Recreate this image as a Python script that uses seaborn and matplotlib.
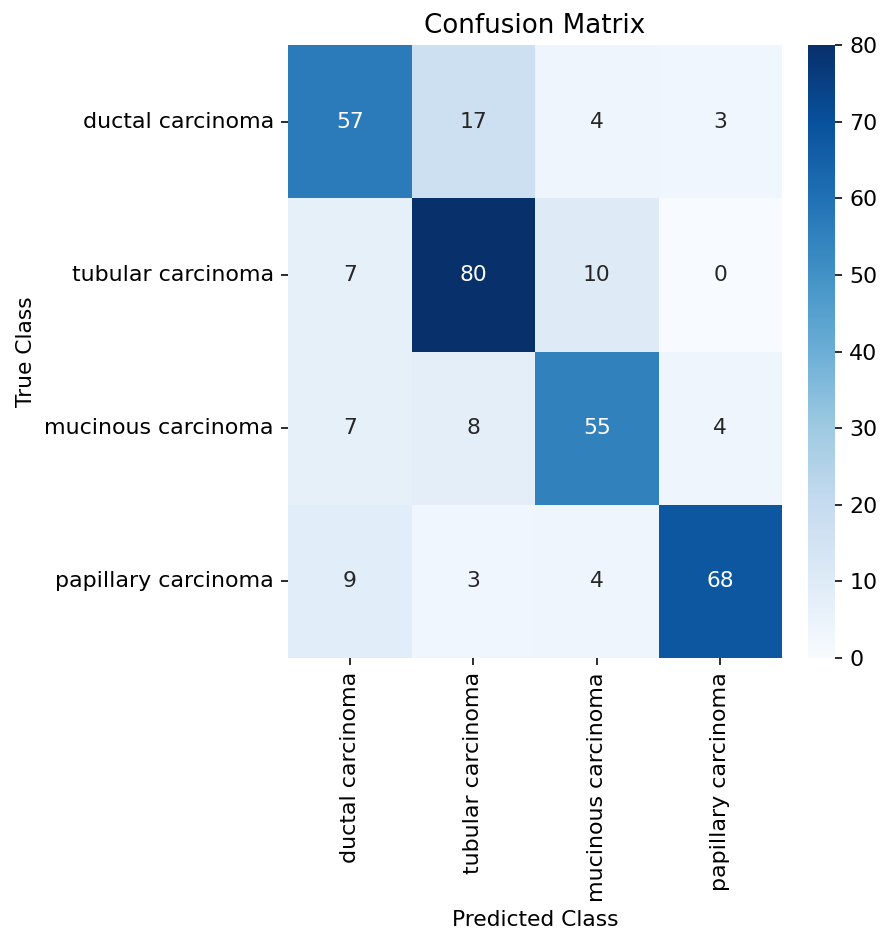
import numpy as np
import matplotlib
matplotlib.use("Agg")
import matplotlib.pyplot as plt
import seaborn as sns

classes = ["ductal carcinoma", "tubular carcinoma", "mucinous carcinoma", "papillary carcinoma"]
row_ductal = [57, 17, 4, 3]
row_tubular = [7, 80, 10, 0]
row_mucinous = [7, 8, 55, 4]
row_papillary = [9, 3, 4, 68]

cm = np.array([row_ductal, row_tubular, row_mucinous, row_papillary])

plt.rcParams["font.size"] = 11
plt.rcParams["xtick.labelsize"] = 11
plt.rcParams["ytick.labelsize"] = 11
plt.rcParams["axes.labelsize"] = 10.8

dpi = 145
fig = plt.figure(figsize=(890 / dpi, 933 / dpi), dpi=dpi)
ax = fig.add_axes([288 / 890, 1 - 658 / 933, 494 / 890, 613 / 933])
cax = fig.add_axes([808 / 890, 1 - 658 / 933, 27 / 890, 613 / 933])

sns.heatmap(cm, annot=True, fmt="d", cmap="Blues",
            xticklabels=classes, yticklabels=classes,
            annot_kws={"fontsize": 10.8},
            ax=ax, cbar_ax=cax)
ax.set_title("Confusion Matrix", fontsize=13)
ax.set_xlabel("Predicted Class")
ax.set_ylabel("True Class")
ax.tick_params(axis="x", rotation=90)
ax.tick_params(axis="y", rotation=0)
cax.set_yticks(range(0, 81, 10))
cax.tick_params(labelsize=11)

fig.savefig("out.png", dpi=dpi)
